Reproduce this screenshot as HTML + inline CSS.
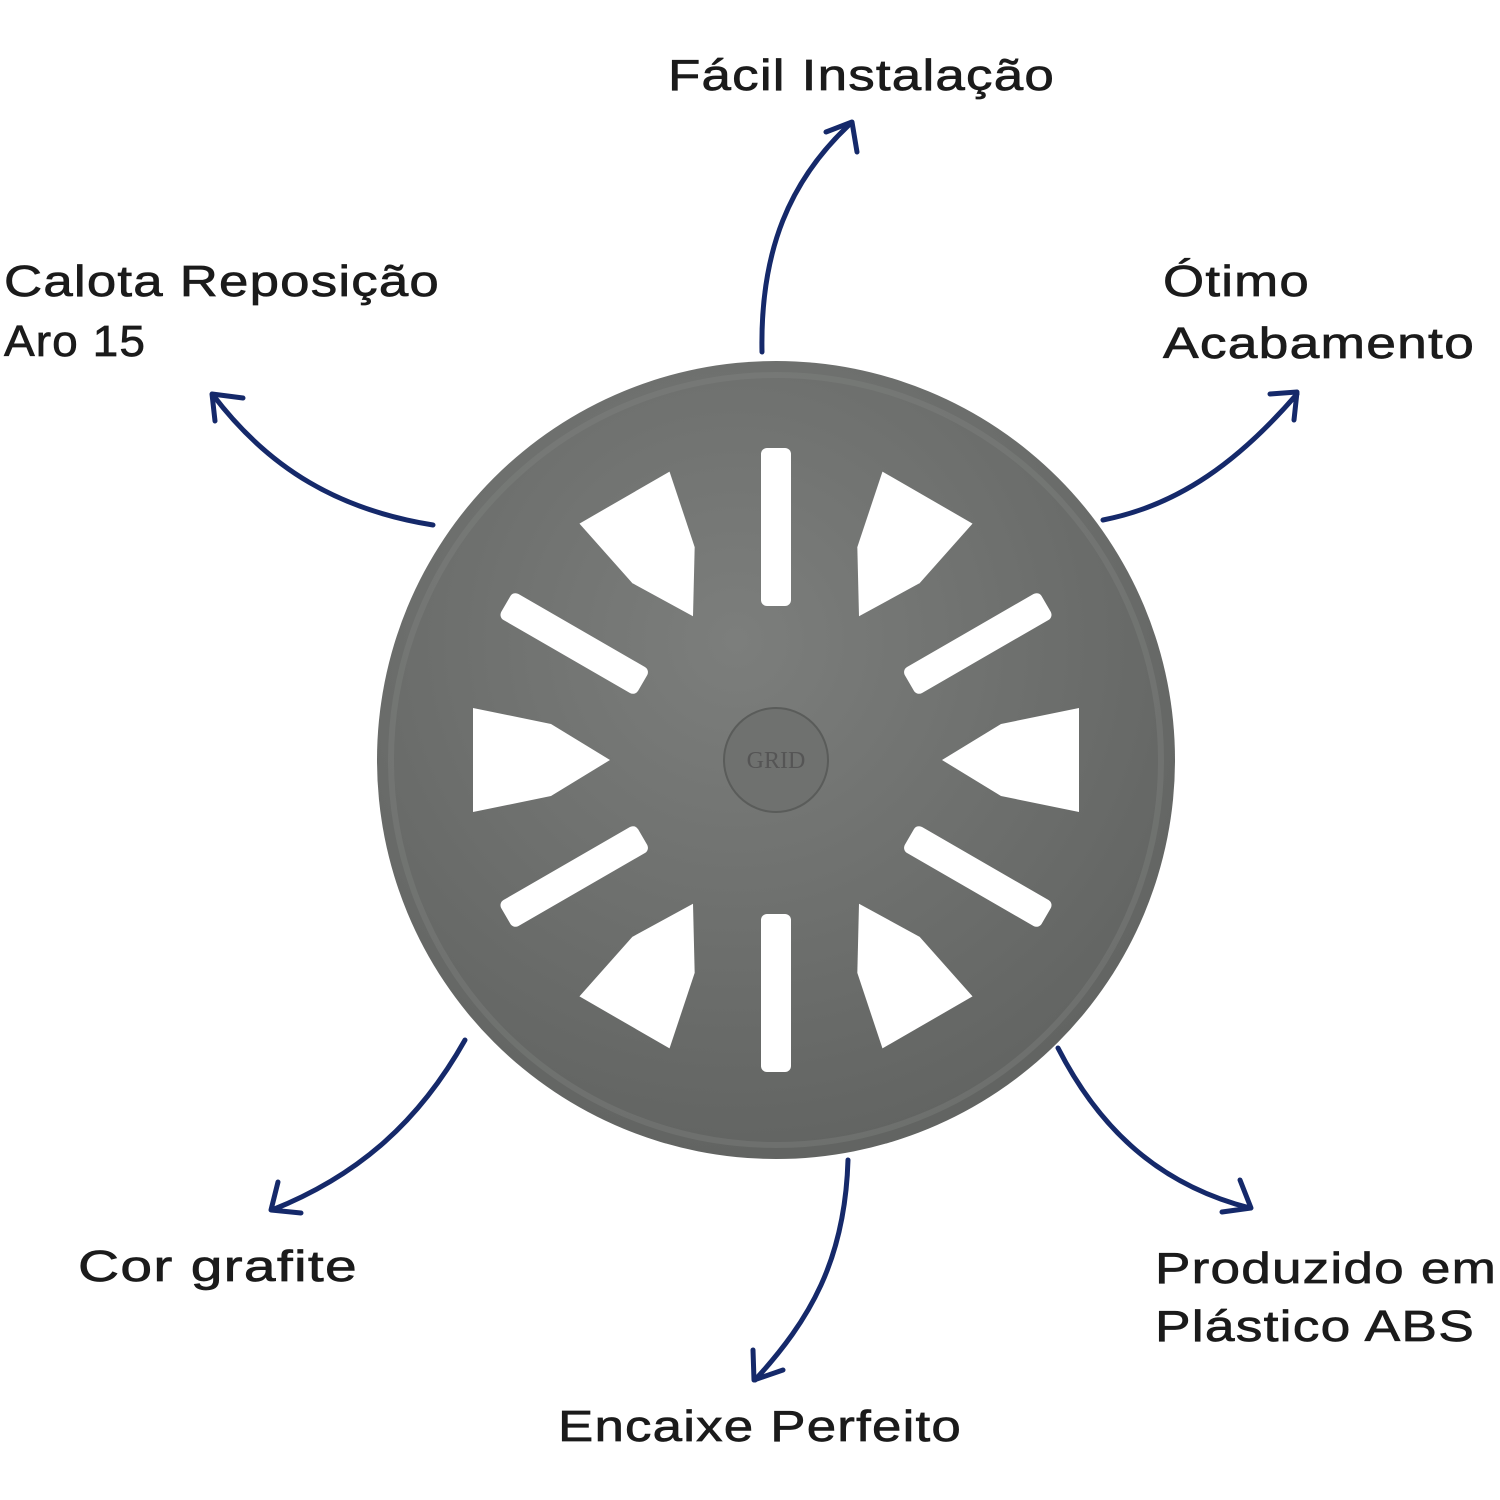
<!DOCTYPE html>
<html><head><meta charset="utf-8"><style>
html,body{margin:0;padding:0;background:#fff;}
svg{display:block}
text{font-family:"Liberation Sans",sans-serif;font-size:44px;fill:#1b1b1b;stroke:#1b1b1b;stroke-width:0.7px;letter-spacing:1px}
</style></head><body>
<svg width="1500" height="1500" viewBox="0 0 1500 1500" xmlns="http://www.w3.org/2000/svg">
<defs>
<radialGradient id="g" cx="45%" cy="35%" r="75%">
<stop offset="0" stop-color="#7c7e7c"/><stop offset="1" stop-color="#5e605e"/>
</radialGradient>
<g id="win"><path d="M166 0 L225 -36 L303 -52 L303 52 L225 36 Z" fill="#fff"/></g>
<g id="slot"><rect x="154" y="-15" width="158" height="30" rx="6" fill="#fff"/></g>
</defs>
<circle cx="776" cy="760" r="399" fill="url(#g)"/>
<circle cx="776" cy="760" r="385" fill="none" stroke="#858785" stroke-width="6" opacity="0.35"/>
<g transform="translate(776,760)">
<use href="#win" transform="rotate(0)"/>
<use href="#win" transform="rotate(60)"/>
<use href="#win" transform="rotate(120)"/>
<use href="#win" transform="rotate(180)"/>
<use href="#win" transform="rotate(240)"/>
<use href="#win" transform="rotate(300)"/>
<use href="#slot" transform="rotate(30)"/>
<use href="#slot" transform="rotate(90)"/>
<use href="#slot" transform="rotate(150)"/>
<use href="#slot" transform="rotate(210)"/>
<use href="#slot" transform="rotate(270)"/>
<use href="#slot" transform="rotate(330)"/>
<circle r="52" fill="#6f716f" stroke="#5a5c5a" stroke-width="2"/>
<text x="0" y="8" text-anchor="middle" style="font-size:24px;fill:#555;stroke:none;font-family:'Liberation Serif',serif;letter-spacing:0">GRID</text>
</g>
<g fill="none" stroke="#15296a" stroke-width="5" stroke-linecap="round" stroke-linejoin="round">
<path d="M762 352 C760 250 790 180 850 124"/><path d="M826 132 L852 122 L857 152"/>
<path d="M433 525 C340 510 270 470 213 395"/><path d="M215 421 L212 394 L243 398"/>
<path d="M1103 520 C1180 505 1240 460 1297 394"/><path d="M1270 394 L1297 392 L1294 420"/>
<path d="M465 1040 C420 1120 360 1175 272 1210"/><path d="M278 1182 L271 1210 L301 1213"/>
<path d="M848 1160 C845 1260 810 1320 755 1380"/><path d="M753 1350 L754 1380 L783 1370"/>
<path d="M1058 1048 C1100 1130 1160 1185 1250 1208"/><path d="M1240 1180 L1251 1208 L1222 1212"/>
</g>
<text x="668" y="90" textLength="387" lengthAdjust="spacingAndGlyphs">Fácil Instalação</text>
<text x="4" y="296" textLength="436" lengthAdjust="spacingAndGlyphs">Calota Reposição</text>
<text x="4" y="356" textLength="142" lengthAdjust="spacingAndGlyphs">Aro 15</text>
<text x="1163" y="296" textLength="147" lengthAdjust="spacingAndGlyphs">Ótimo</text>
<text x="1163" y="358" textLength="312" lengthAdjust="spacingAndGlyphs">Acabamento</text>
<text x="78" y="1281" textLength="280" lengthAdjust="spacingAndGlyphs">Cor grafite</text>
<text x="1155" y="1283" textLength="342" lengthAdjust="spacingAndGlyphs">Produzido em</text>
<text x="1155" y="1341" textLength="320" lengthAdjust="spacingAndGlyphs">Plástico ABS</text>
<text x="558" y="1441" textLength="404" lengthAdjust="spacingAndGlyphs">Encaixe Perfeito</text>
</svg>
</body></html>
